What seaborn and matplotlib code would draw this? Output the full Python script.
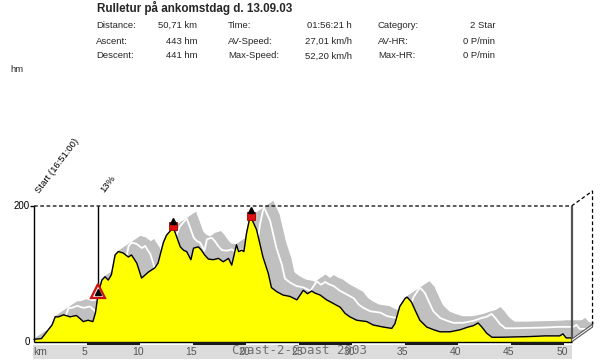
import numpy as np
import pandas as pd
import matplotlib
matplotlib.use("Agg")
import matplotlib.pyplot as plt
import matplotlib.transforms as mtrans
from matplotlib.collections import PolyCollection
from matplotlib.patches import Polygon
import seaborn as sns

# ---------------- data ----------------
title = "Rulletur på ankomstdag d. 13.09.03"
stat_labels = [["Distance:", "Ascent:", "Descent:"],
               ["Time:", "AV-Speed:", "Max-Speed:"],
               ["Category:", "AV-HR:", "Max-HR:"]]
stat_values = [["50,71 km", "443 hm", "441 hm"],
               ["01:56:21 h", "27,01 km/h", "52,20 km/h"],
               ["2 Star", "0 P/min", "0 P/min"]]

km = [0.0, 0.7, 1.2, 1.7, 2.0, 2.3, 2.8, 3.4, 4.0, 4.3, 4.65, 5.1, 5.55, 5.8,
      6.05, 6.4, 6.7, 7.0, 7.3, 7.65, 7.95, 8.4, 8.9, 9.2, 9.7, 10.15, 10.8,
      11.4, 11.7, 12.2, 12.5, 13.0, 13.15, 13.45, 13.8, 14.1, 14.4, 14.8,
      15.05, 15.5, 15.8, 16.1, 16.45, 16.9, 17.4, 17.85, 18.35, 18.65, 19.1,
      19.3, 19.6, 19.8, 20.05, 20.35, 20.45, 21.0, 21.6, 22.1, 22.4, 22.9,
      23.5, 24.15, 24.8, 25.1, 25.4, 25.8, 26.2, 26.5, 27.0, 27.6, 28.2,
      28.9, 29.35, 29.8, 30.45, 31.4, 32.0, 32.95, 33.75, 34.05, 34.5, 35.0,
      35.2, 35.6, 35.95, 36.4, 37.05, 37.7, 38.3, 39.25, 40.2, 40.95, 41.45,
      41.9, 42.25, 42.7, 43.2, 44.0, 46.8, 48.2, 49.6, 49.9, 50.2, 50.71]
elev = [4, 5, 15, 25, 37, 37, 40, 37, 39, 35, 30, 32, 30, 43,
        71, 91, 96, 91, 99, 128, 133, 131, 125, 128, 116, 94, 103,
        109, 116, 146, 157, 166, 168, 155, 140, 135, 133, 121,
        138, 140, 135, 128, 122, 121, 123, 118, 123, 113, 143,
        133, 135, 133, 160, 182, 184, 165, 125, 101, 80, 74,
        69, 67, 62, 69, 76, 71, 75, 72, 69, 62, 57,
        51, 42, 37, 32, 30, 25, 22, 20, 27, 52, 64,
        66, 59, 47, 32, 22, 18, 15, 15, 18, 22, 24,
        28, 22, 13, 7, 7, 8, 9, 9, 12, 6, 6]

km_ticks = [5, 10, 15, 20, 25, 30, 35, 40, 45, 50]
hm_ticks = [0, 200]
peak_km = [13.15, 20.45]          # summit markers
climb_km = 6.05                   # 13% climb marker
climb_label = "13%"
start_label = "Start (16:51:00)"
footer = "Coast-2-Coast 2003"
total_km = 50.71

# ---------------- layout helpers ----------------
W, H = 600, 360
X0, Y0 = 34.0, 342.0          # pixel of km 0 / hm 0
PXKM, PXHM = 10.6, 0.68       # pixels per km / per hm
BDX, BDY = 21 / PXKM, 15 / PXHM   # 3D box depth
RDX, RDY = 22.5 / PXKM, 15 / PXHM  # ribbon depth

sns.set_theme(style="white")
plt.rcParams["font.family"] = ["Liberation Sans", "DejaVu Sans"]

fig = plt.figure(figsize=(6, 3.6), dpi=100)
ax = fig.add_axes([0, 0, 1, 1])
ax.set_xlim(-X0 / PXKM, (W - X0) / PXKM)
ax.set_ylim(-(H - Y0) / PXHM, Y0 / PXHM)
ax.axis("off")

df = pd.DataFrame({"km": km, "hm": elev})
x = df["km"].to_numpy()
y = df["hm"].to_numpy(dtype=float)

# gray ribbon (depth extrusion)
p0 = np.column_stack([x, y])
p1 = p0 + np.array([RDX, RDY])
polys = [[p0[i], p0[i + 1], p1[i + 1], p1[i]] for i in range(len(x) - 1)]
ax.add_collection(PolyCollection(polys, facecolor="#c0c0c0", edgecolor="#c0c0c0",
                                 linewidth=0.8, zorder=1))
ax.plot(x + 0.6 * RDX, y + 0.6 * RDY, color="white", lw=1.3, zorder=2)

# yellow profile
ax.fill_between(x, y, 0, color="#ffff00", lw=0, zorder=3)
sns.lineplot(data=df, x="km", y="hm", color="black", lw=1.0, ax=ax,
             estimator=None, sort=False, zorder=4)
ax.set_xlabel(""); ax.set_ylabel("")

# frame: left axis, top dashed, 3D box
ax.vlines(0, 0, 200, color="black", lw=1.0, zorder=5)
ax.hlines(200, -0.35, 0, color="black", lw=1.0, zorder=5)
ax.plot([0, total_km, total_km + BDX, total_km + BDX], [200, 200, 200 + BDY, BDY],
        color="black", lw=0.9, ls=(0, (3, 2)), zorder=5)
ax.vlines(total_km, 0, 200, color="#555555", lw=1.6, zorder=5)
ax.add_patch(Polygon([(total_km, 0), (total_km + BDX, BDY), (total_km + BDX, BDY + 4),
                      (total_km, 4)], closed=True, facecolor="white",
                     edgecolor="#555555", lw=0.8, zorder=5))

# bottom distance bar
ax.fill_between([-0.1, total_km], -25, -4.6, color="#dcdcdc", lw=0, zorder=2)
ax.hlines(0, 0, total_km, color="black", lw=1.0, zorder=5)
for a in km_ticks[::2]:
    ax.fill_between([a, a + 5], -4.4, 0, color="#1a1a1a", lw=0, zorder=5)
ax.text(0.6, -15, "km", ha="center", va="center", fontsize=7.5, color="#555555")
for v in km_ticks:
    ax.text(v - 0.2, -15, str(v), ha="center", va="center", fontsize=7.5,
            color="#555555")
for v in hm_ticks:
    ax.text(-0.4, v, str(v), ha="right", va="center", fontsize=7, color="black")

# markers
ce = np.interp(climb_km, x, y)
ax.vlines(climb_km, ce + 8, 200, color="black", lw=1.0, zorder=5)
ax.plot([climb_km], [ce + 4], marker="^", ms=9.5, mfc="#f6e6e6", mec="#cc1010",
        mew=1.6, zorder=6)
ax.plot([climb_km], [ce + 2.5], marker="^", ms=4.5, mfc="black", mec="black", zorder=7)
pe = np.interp(peak_km, x, y)
ax.plot(peak_km, pe + 2, ls="none", marker="s", ms=5.2, mfc="#e01010",
        mec="#a00000", mew=0.6, zorder=6)
roof = mtrans.offset_copy(ax.transData, fig=fig, x=0, y=5.5, units="dots")
ax.plot(peak_km, pe + 2, ls="none", marker="^", ms=4.8, mfc="black", mec="black",
        transform=roof, zorder=7)

# rotated labels
ax.text(0.65, 216, start_label, rotation=53, rotation_mode="anchor", ha="left",
        va="bottom", fontsize=6.8, color="black")
ax.text(climb_km + 0.7, 218, climb_label, rotation=53, rotation_mode="anchor",
        ha="left", va="bottom", fontsize=6.8, color="black")

# header
def fx(px): return px / W
def fy(py): return 1 - py / H

fig.text(fx(97), fy(8), title, fontsize=8.4, weight="bold", va="center", ha="left")
col_left = [96, 228, 378]
col_right = [197, 352, 495]
rows_y = [25, 41, 56]
for c in range(3):
    for r in range(3):
        fig.text(fx(col_left[c]), fy(rows_y[r]), stat_labels[c][r], fontsize=6.8,
                 va="center", ha="left")
        fig.text(fx(col_right[c]), fy(rows_y[r]), stat_values[c][r], fontsize=6.8,
                 va="center", ha="right")
fig.text(fx(10), fy(70), "hm", fontsize=6.8, va="center", ha="left")

fig.text(fx(300), fy(351), footer, family="DejaVu Sans Mono", fontsize=9,
         color="#707070", ha="center", va="center")

fig.savefig("out.png", dpi=100)
